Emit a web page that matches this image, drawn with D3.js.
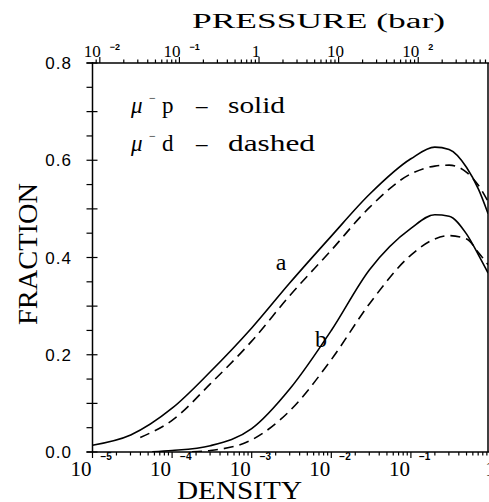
<!DOCTYPE html>
<html>
<head>
<meta charset="utf-8">
<title>Fraction vs density</title>
<style>
  body { margin: 0; background: #fff; }
  svg { display: block; background: #fff; }
  .serif { font-family: 'Liberation Serif', 'Times New Roman', serif; }
  .sans { font-family: 'Liberation Sans', Arial, sans-serif; }
</style>
</head>
<body>
<div id="chart"></div>
<script src="https://cdnjs.cloudflare.com/ajax/libs/d3/7.8.5/d3.min.js"></script>
<script>
(function () {

  // density grid (log10) shared by the curves
  const logDensity = [-5, -4.52, -4, -3.52, -3, -2.52, -2, -1.52, -1, -0.7, -0.52, -0.3, -0.15, -0.03]

  // mu- p (solid) and mu- d (dashed), curves a and b
  const muP_a = [0.014, 0.035, 0.09, 0.165, 0.255, 0.348, 0.444, 0.53, 0.603, 0.627, 0.622, 0.585, 0.54, 0.49]
  const muD_a = [null, null, 0.065, 0.14, 0.228, 0.322, 0.415, 0.503, 0.572, 0.588, 0.59, 0.575, 0.548, 0.515]
  const muP_b = [null, null, 0.003, 0.013, 0.048, 0.13, 0.25, 0.375, 0.46, 0.488, 0.485, 0.448, 0.405, 0.368]
  const muD_b = [null, null, null, 0.003, 0.025, 0.085, 0.19, 0.305, 0.405, 0.438, 0.445, 0.438, 0.41, 0.385]

  // starting points of the curves that don't begin at the left edge
  const startA_dashed = [-4.4, 0.03]
  const startB_solid = [-4.25, 0.0005]
  const startB_dashed = [-3.75, 0.0005]

  const yTicks = [0, 0.2, 0.4, 0.6, 0.8]
  const densityExps = [-5, -4, -3, -2, -1, 0]
  const pressureExps = [-2, -1, 0, 1, 2]
  const pressureShift = 2.908   // decades between density and pressure scale

  const W = 489, H = 502

  const svg = d3.select("#chart").append("svg")
    .attr("width", W).attr("height", H)

  const x = d3.scaleLog().domain([1e-5, 1]).range([92.5, 490.5])
  const xp = d3.scaleLog()
    .domain(x.domain().map(d => d * Math.pow(10, pressureShift)))
    .range(x.range())
  const y = d3.scaleLinear().domain([0, 0.8]).range([452, 63])

  const left = x(1e-5), right = 488, top = y(0.8), bottom = y(0)

  // frame
  const frame = svg.append("g").attr("stroke", "#000").attr("stroke-width", 1.5).attr("fill", "none")
  frame.append("line").attr("x1", left).attr("x2", left).attr("y1", top - 1).attr("y2", bottom)
  frame.append("line").attr("x1", right).attr("x2", right).attr("y1", top).attr("y2", bottom)
  frame.append("line").attr("x1", left - 6).attr("x2", W).attr("y1", bottom).attr("y2", bottom)
  frame.append("line").attr("x1", left - 6).attr("x2", W).attr("y1", top).attr("y2", top)

  // left ticks
  const yMinor = d3.range(0, 0.8001, 0.05)
  frame.selectAll(".yt").data(yMinor).join("line")
    .attr("x1", left - 6)
    .attr("x2", (d, i) => i % 2 === 0 ? left + 5 : left)
    .attr("y1", d => y(d)).attr("y2", d => y(d))
    .attr("stroke-width", 1.2)

  svg.append("g").selectAll("text").data(yTicks).join("text")
    .attr("class", "sans")
    .attr("x", 72).attr("y", d => y(d) + 6)
    .attr("text-anchor", "end")
    .attr("font-size", 17)
    .attr("letter-spacing", 1)
    .text(d => d.toFixed(1))

  // bottom (density) ticks
  const dTicks = []
  densityExps.forEach(e => {
    for (let m = 1; m <= 9; m++) {
      const v = m * Math.pow(10, e)
      if (v <= 1.0001) dTicks.push({ v: v, major: m === 1 })
    }
  })
  frame.selectAll(".xt").data(dTicks.filter(d => x(d.v) <= W)).join("line")
    .attr("x1", d => x(d.v)).attr("x2", d => x(d.v))
    .attr("y1", bottom).attr("y2", d => bottom + (d.major ? 6 : 3.5))
    .attr("stroke-width", 1.2)

  // top (pressure) ticks
  const pTicks = []
  d3.range(-3, 3).forEach(e => {
    for (let m = 1; m <= 9; m++) pTicks.push({ v: m * Math.pow(10, e), major: m === 1 })
  })
  frame.selectAll(".pt").data(pTicks.filter(d => xp(d.v) >= left && xp(d.v) <= right)).join("line")
    .attr("x1", d => xp(d.v)).attr("x2", d => xp(d.v))
    .attr("y1", top).attr("y2", d => top - (d.major ? 6 : 3.5))
    .attr("stroke-width", 1.2)

  // bottom labels
  const bl = svg.append("g")
  densityExps.forEach(e => {
    const px = x(Math.pow(10, e))
    if (e === 0) {
      bl.append("text").attr("class", "serif").attr("x", px).attr("y", 476)
        .attr("text-anchor", "middle").attr("font-size", 21).text("1")
    } else {
      bl.append("text").attr("class", "serif").attr("x", px - 1).attr("y", 476)
        .attr("text-anchor", "end").attr("font-size", 21).text("10")
      bl.append("text").attr("class", "sans").attr("x", px + 8).attr("y", 460)
        .attr("font-size", 10).attr("font-weight", "bold").text("\u2212" + (-e))
    }
  })

  // top labels
  const tl = svg.append("g")
  pressureExps.forEach(e => {
    const px = xp(Math.pow(10, e))
    if (e === 0 || e === 1) {
      tl.append("text").attr("class", "serif").attr("x", px - 3).attr("y", 57)
        .attr("text-anchor", "middle").attr("font-size", 17).text(e === 0 ? "1" : "10")
    } else {
      tl.append("text").attr("class", "serif").attr("x", px + 1).attr("y", 57)
        .attr("text-anchor", "end").attr("font-size", 17).text("10")
      tl.append("text").attr("class", "sans").attr("x", px + 10).attr("y", 50)
        .attr("font-size", 9).attr("font-weight", "bold").text(e < 0 ? "\u2212" + (-e) : String(e))
    }
  })

  // axis titles
  svg.append("text").attr("class", "serif")
    .attr("x", 192).attr("y", 28).attr("font-size", 20)
    .attr("textLength", 253).attr("lengthAdjust", "spacingAndGlyphs")
    .text("PRESSURE (bar)")
  svg.append("text").attr("class", "serif")
    .attr("x", 177).attr("y", 499).attr("font-size", 26)
    .attr("textLength", 125).attr("lengthAdjust", "spacingAndGlyphs")
    .text("DENSITY")
  svg.append("text").attr("class", "serif")
    .attr("transform", "translate(37,325) rotate(-90)")
    .attr("font-size", 28)
    .attr("textLength", 142).attr("lengthAdjust", "spacingAndGlyphs")
    .text("FRACTION")

  // curves
  function series(vals, start) {
    const pts = []
    if (start) pts.push(start)
    logDensity.forEach((l, i) => { if (vals[i] != null) pts.push([l, vals[i]]) })
    return pts
  }
  const line = d3.line()
    .x(d => x(Math.pow(10, d[0])))
    .y(d => y(d[1]))
    .curve(d3.curveMonotoneX)

  const curves = [
    { pts: series(muP_a), dash: null },
    { pts: series(muD_a, startA_dashed), dash: "10,6" },
    { pts: series(muP_b, startB_solid), dash: null },
    { pts: series(muD_b, startB_dashed), dash: "10,6" }
  ]

  svg.append("clipPath").attr("id", "clip").append("rect")
    .attr("x", left).attr("y", top).attr("width", right - left).attr("height", bottom - top)

  svg.append("g").attr("clip-path", "url(#clip)")
    .selectAll("path").data(curves).join("path")
    .attr("d", d => line(d.pts))
    .attr("fill", "none")
    .attr("stroke", "#000")
    .attr("stroke-width", 1.6)
    .attr("stroke-dasharray", d => d.dash)

  // curve labels
  svg.append("text").attr("class", "serif").attr("x", 281).attr("y", 270)
    .attr("text-anchor", "middle").attr("font-size", 24).text("a")
  svg.append("text").attr("class", "serif").attr("x", 321).attr("y", 347)
    .attr("text-anchor", "middle").attr("font-size", 24).text("b")

  // legend
  const legendRows = [["p", "solid", 113, 57], ["d", "dashed", 151, 87]]
  const lg = svg.append("g").attr("class", "serif").attr("font-size", 23)
  legendRows.forEach(r => {
    lg.append("text").attr("x", 131).attr("y", r[2]).attr("font-style", "italic").text("\u03bc")
    lg.append("text").attr("x", 149).attr("y", r[2] - 11).attr("font-size", 12).text("\u2212")
    lg.append("text").attr("x", 162).attr("y", r[2]).text(r[0])
    lg.append("text").attr("x", 196).attr("y", r[2]).text("\u2013")
    lg.append("text").attr("x", 228).attr("y", r[2])
      .attr("textLength", r[3]).attr("lengthAdjust", "spacingAndGlyphs").text(r[1])
  })

})();
</script>
</body>
</html>
